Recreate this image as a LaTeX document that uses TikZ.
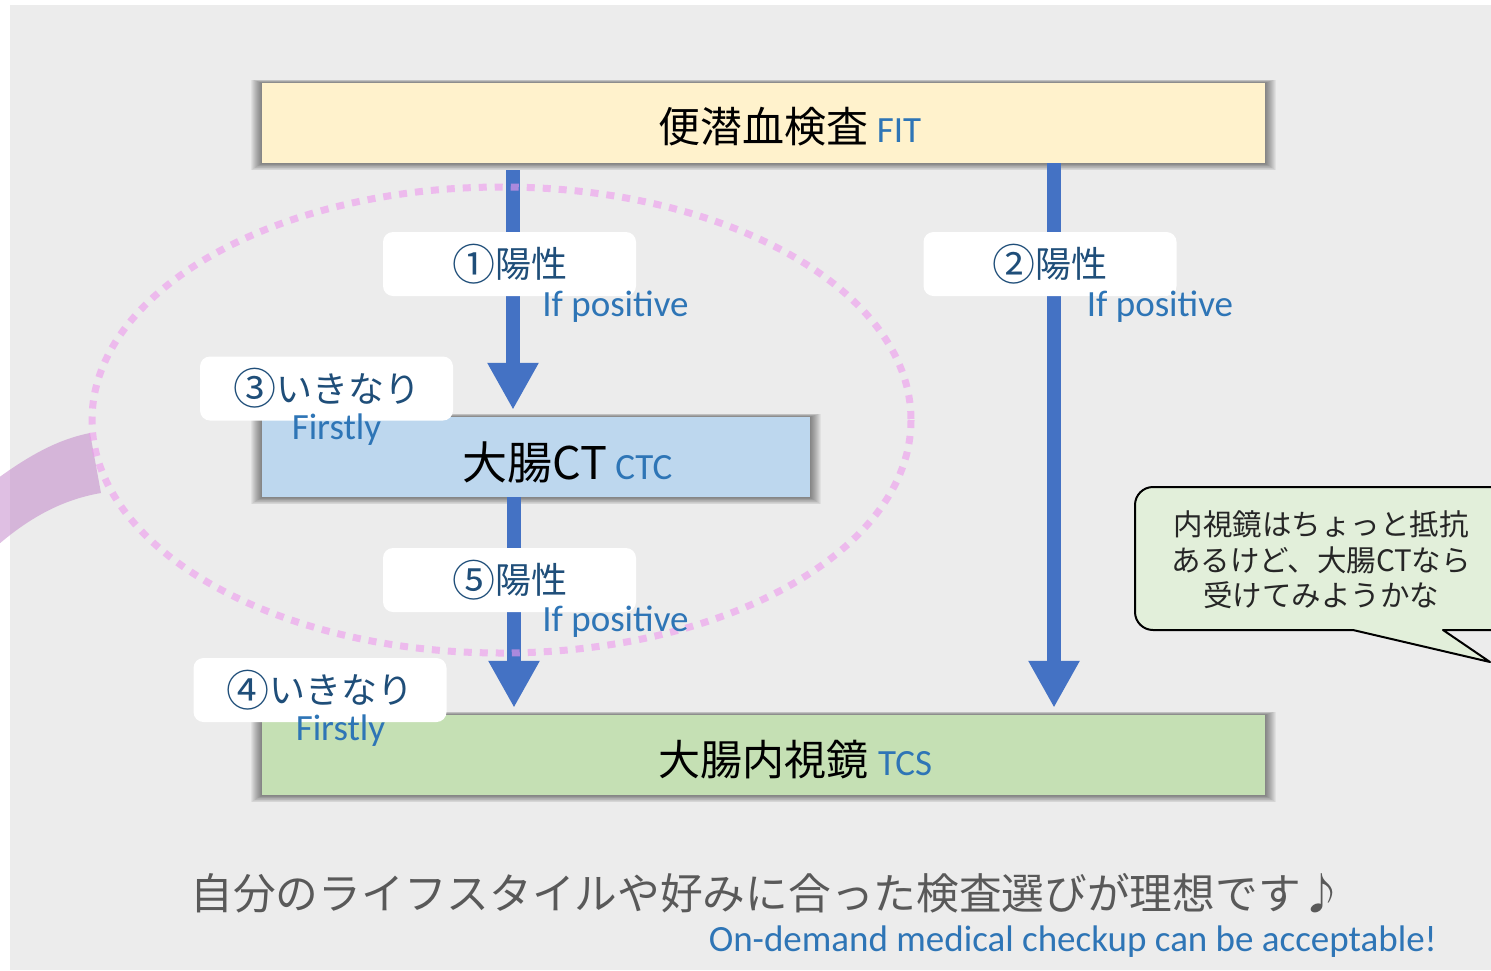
\documentclass[tikz,border=0pt]{standalone}
\usepackage{fontspec}
\setmainfont{Carlito}
\newfontfamily\jp{Noto Sans CJK JP}
\usetikzlibrary{arrows.meta}
\definecolor{bg}{HTML}{ECECEC}
\definecolor{fitc}{HTML}{FFF2CC}
\definecolor{ctcc}{HTML}{BDD7EE}
\definecolor{tcsc}{HTML}{C5E0B4}
\definecolor{arrowblue}{HTML}{4472C4}
\definecolor{lbltxt}{HTML}{1F4E79}
\definecolor{eng}{HTML}{2E75B6}
\definecolor{pinkdot}{HTML}{EE99EE}
\definecolor{bandc}{HTML}{C080C8}
\definecolor{bubc}{HTML}{E2EFDA}
\definecolor{graytxt}{HTML}{595959}
\pgfdeclarelayer{back}
\pgfdeclarelayer{shad}
\pgfsetlayers{back,shad,main}
\newcommand{\cn}[1]{\raisebox{-2.5pt}{\fontsize{43}{40}\selectfont #1}}
\newcommand{\softshadow}[1]{%
  \begin{pgfonlayer}{shad}
  \foreach \i in {1,...,11}{%
    \fill[black, opacity=0.047]
      ([xshift={-\i*1pt}, yshift={0.3*\i*1pt}]#1.north west) rectangle
      ([xshift={\i*1pt}, yshift={-0.65*\i*1pt}]#1.south east);
  }
  \end{pgfonlayer}}
\begin{document}
\begin{tikzpicture}[x=1pt,y=-1pt,
  box/.style={draw=none, inner sep=0pt},
  bigarrow/.style={draw=arrowblue, line width=14pt, -{Triangle[width=48pt,length=47pt]}},
  lbl/.style={fill=white, rounded corners=10pt, minimum width=253pt, minimum height=64pt, inner sep=0pt,
    text=lbltxt, font=\jp\fontsize{36}{40}\selectfont},
  engtxt/.style={text=eng, inner sep=0pt, font=\fontsize{37}{40}\selectfont},
  maintxt/.style={inner sep=0pt, text=black},
  ring/.style={draw=pinkdot, draw opacity=0.6, line width=7pt, dash pattern=on 8pt off 8pt}
]
\useasboundingbox (0,0) rectangle (1491,970);
\begin{pgfonlayer}{back}
\fill[white] (0,0) rectangle (1491,970);
\fill[bg] (10,5) rectangle (1491,970);
\end{pgfonlayer}

% pink band
\fill[bandc, fill opacity=0.5] (-10,484) .. controls (25,458) and (55,440) .. (90,433)
  -- (101,493) .. controls (60,500) and (25,520) .. (-10,552) -- cycle;

% boxes
\node[box, fill=fitc, minimum width=1003pt, minimum height=80pt] (fit) at (763.5,123) {};
\node[box, fill=ctcc, minimum width=548pt, minimum height=80pt] (ctc) at (536,457) {};
\node[box, fill=tcsc, minimum width=1003pt, minimum height=80pt] (tcs) at (763.5,755) {};
\softshadow{fit}
\softshadow{ctc}
\softshadow{tcs}

\node[maintxt] (fitt) at (790,127) {{\jp\fontsize{42}{48}\selectfont 便潜血検査}\hspace{8pt}{\color{eng}\fontsize{37}{40}\selectfont FIT}};
\node[maintxt] (ctct) at (567.5,462) {{\jp\fontsize{45}{48}\selectfont 大腸CT}\hspace{8pt}{\color{eng}\fontsize{37}{40}\selectfont CTC}};
\node[maintxt] (tcst) at (795,760) {{\jp\fontsize{42}{48}\selectfont 大腸内視鏡}\hspace{10pt}{\color{eng}\fontsize{37}{40}\selectfont TCS}};

% arrows
\coordinate (xa) at (513,0);
\coordinate (xb) at (1054,0);
\coordinate (xc) at (514,0);
\draw[bigarrow, shorten <=7pt, shorten >=7pt] (fit.south -| xa) -- (ctc.north -| xa);
\draw[bigarrow, shorten >=7pt] (fit.south -| xb) -- (tcs.north -| xb);
\draw[bigarrow, shorten >=7pt] (ctc.south -| xc) -- (tcs.north -| xc);

% dotted ellipse
\draw[ring] (501.5,420) ellipse [x radius=409.5, y radius=233];

% labels
\node[lbl] (l1) at (509.5,264) {\raisebox{-2pt}{\cn{①}陽性}};
\node[engtxt] (e1) at (615.5,307) {If positive};
\node[lbl] (l2) at (1050,264) {\raisebox{-2pt}{\cn{②}陽性}};
\node[engtxt] (e2) at (1160,307) {If positive};
\node[lbl] (l3) at (326.5,388.5) {\raisebox{-2pt}{\cn{③}いきなり}};
\node[engtxt] (e3) at (336.5,430) {Firstly};
\node[lbl] (l5) at (509.5,580) {\raisebox{-2pt}{\cn{⑤}陽性}};
\node[engtxt] (e5) at (615.5,622) {If positive};
\node[lbl] (l4) at (320,690) {\raisebox{-2pt}{\cn{④}いきなり}};
\node[engtxt] (e4) at (340.5,731) {Firstly};

% speech bubble
\draw[line width=2pt, fill=bubc, line join=round]
  (1353,630) [rounded corners=18pt] -- (1135,630) -- (1135,487) -- (1520,487) -- (1520,630) [sharp corners] -- (1443,630) -- (1490,662) -- cycle;
\node[inner sep=0pt, align=center, text=black!85, font=\jp\fontsize{29.5}{35.5}\selectfont] (bub) at (1321,560)
  {内視鏡はちょっと抵抗\\あるけど、大腸CTなら\\受けてみようかな};

% bottom text
\node[inner sep=0pt, text=graytxt, font=\jp\fontsize{42.7}{48}\selectfont] (msg) at (767,893)
  {自分のライフスタイルや好みに合った検査選びが理想です♪};
\node[inner sep=0pt, text=eng, font=\fontsize{37}{40}\selectfont, anchor=east] (msge) at (1437,942)
  {On-demand medical checkup can be acceptable!};
\end{tikzpicture}
\end{document}
